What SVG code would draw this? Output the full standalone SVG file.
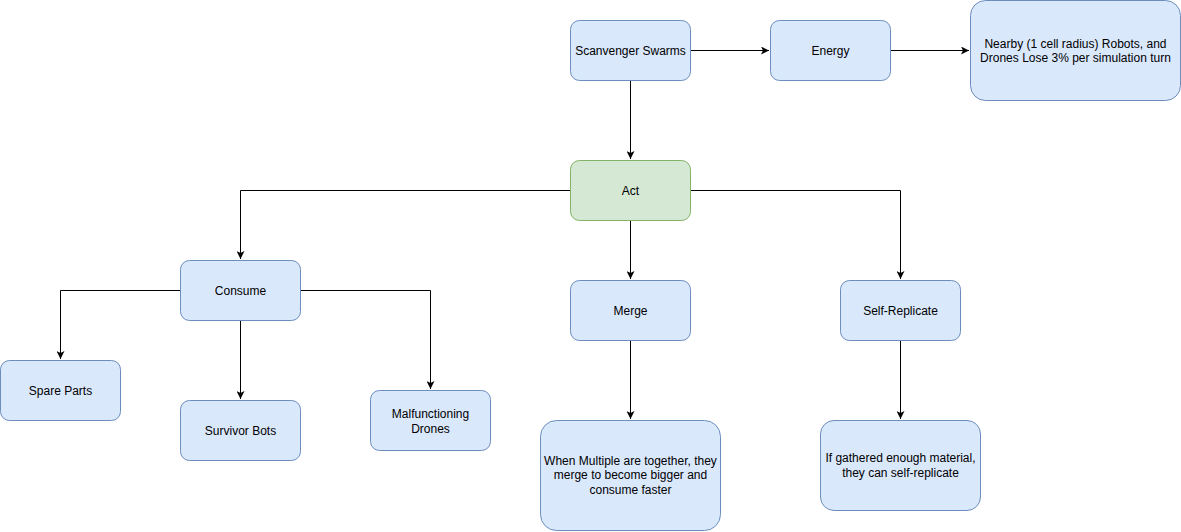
<svg xmlns="http://www.w3.org/2000/svg" width="1181" height="532" viewBox="0 0 1181 532">
<defs>
<marker id="arr" viewBox="0 0 10 10" refX="10" refY="5" markerWidth="8" markerHeight="8" markerUnits="userSpaceOnUse" orient="auto">
<path d="M0,0 L10,5 L0,10 L2.5,5 Z" fill="#000"/>
</marker>
</defs>
<style>
.b{fill:#dae8fc;stroke:#6c8ebf;stroke-width:1}
.g{fill:#d5e8d4;stroke:#82b366;stroke-width:1}
text{font-family:"Liberation Sans",Arial,sans-serif;font-size:12px;fill:#000;text-anchor:middle}
.c path{fill:none;stroke:#000;stroke-width:1;marker-end:url(#arr)}
</style>
<rect width="1181" height="532" fill="#fff"/>
<g class="c" id="connectors">
<path d="M690.5,50.5 H769"/>
<path d="M890.5,50.5 H969"/>
<path d="M630.5,80.5 V159"/>
<path d="M570.5,190.5 H240.5 V259"/>
<path d="M630.5,220.5 V279"/>
<path d="M690.5,190.5 H900.5 V279"/>
<path d="M180.5,290.5 H60.5 V359"/>
<path d="M240.5,320.5 V399"/>
<path d="M300.5,290.5 H430.5 V389"/>
<path d="M630.5,340.5 V419"/>
<path d="M900.5,340.5 V419"/>
</g>
<g id="scanvenger"><rect class="b" x="570.5" y="20.5" width="120" height="60" rx="9"/><text x="630.5" y="54.5">Scanvenger Swarms</text></g>
<g id="energy"><rect class="b" x="770.5" y="20.5" width="120" height="60" rx="9"/><text x="830.5" y="54.5">Energy</text></g>
<g id="nearby"><rect class="b" x="970.5" y="0.5" width="210" height="100" rx="15"/><text x="1075.5" y="47.5">Nearby (1 cell radius) Robots, and</text><text x="1075.5" y="61.5">Drones Lose 3% per simulation turn</text></g>
<g id="act"><rect class="g" x="570.5" y="160.5" width="120" height="60" rx="9"/><text x="630.5" y="194.5">Act</text></g>
<g id="consume"><rect class="b" x="180.5" y="260.5" width="120" height="60" rx="9"/><text x="240.5" y="294.5">Consume</text></g>
<g id="merge"><rect class="b" x="570.5" y="280.5" width="120" height="60" rx="9"/><text x="630.5" y="314.5">Merge</text></g>
<g id="selfrep"><rect class="b" x="840.5" y="280.5" width="120" height="60" rx="9"/><text x="900.5" y="314.5">Self-Replicate</text></g>
<g id="spare"><rect class="b" x="0.5" y="360.5" width="120" height="60" rx="9"/><text x="60.5" y="394.5">Spare Parts</text></g>
<g id="survivor"><rect class="b" x="180.5" y="400.5" width="120" height="60" rx="9"/><text x="240.5" y="434.5">Survivor Bots</text></g>
<g id="malfunction"><rect class="b" x="370.5" y="390.5" width="120" height="60" rx="9"/><text x="430.5" y="417.5">Malfunctioning</text><text x="430.5" y="432.5">Drones</text></g>
<g id="whenmultiple"><rect class="b" x="540.5" y="420.5" width="180" height="110" rx="16"/><text x="630.5" y="465">When Multiple are together, they</text><text x="630.5" y="479">merge to become bigger and</text><text x="630.5" y="494">consume faster</text></g>
<g id="ifgathered"><rect class="b" x="820.5" y="420.5" width="160" height="90" rx="13.5"/><text x="900.5" y="462">If gathered enough material,</text><text x="900.5" y="476.5">they can self-replicate</text></g>
</svg>
